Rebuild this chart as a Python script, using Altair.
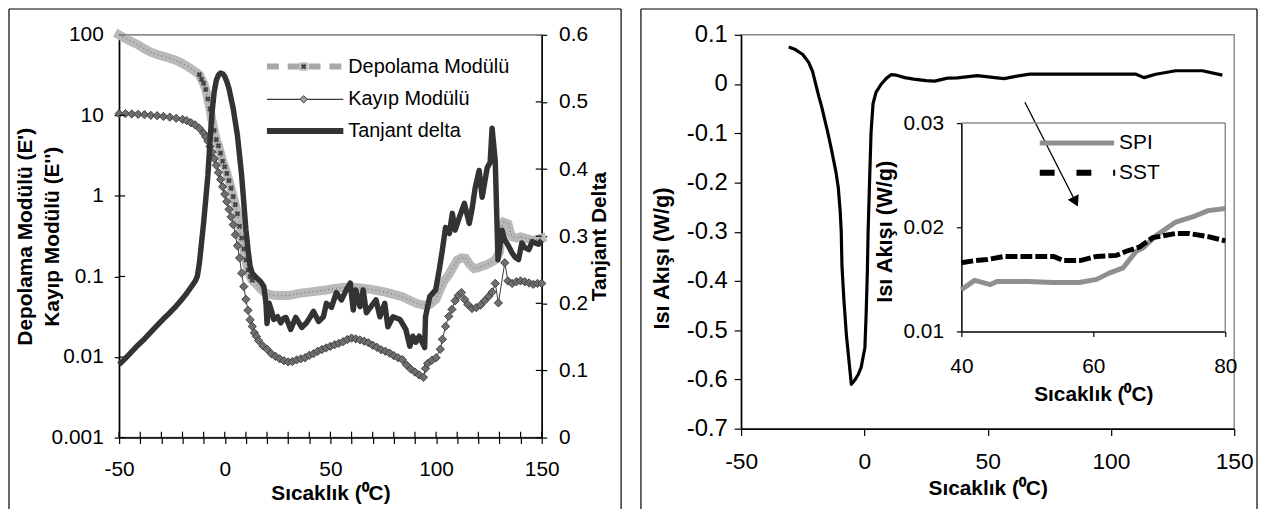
import altair as alt
import pandas as pd

FONT = "Liberation Sans"

# ---------------- left panel data (DMA) ----------------
storage_points = [  # Depolama Modülü (E')
    (-50, 100), (-47, 90), (-44, 82), (-41, 75), (-38, 67), (-35, 61), (-32, 57), (-29, 54),
    (-26, 51), (-23, 48), (-20, 44), (-18, 41), (-16, 38), (-14, 35), (-12, 32), (-11, 28),
    (-10, 25), (-9, 21), (-8, 16), (-7, 12), (-6, 8.5), (-5, 6.5), (-4, 5), (-3, 4.2),
    (-2, 3.4), (-1, 2.7), (0, 2.3), (1, 1.9), (2, 1.55), (3, 1.25), (4, 0.98), (5, 0.78),
    (6, 0.6), (7, 0.42), (8, 0.3), (9, 0.22), (10, 0.16), (11, 0.12), (12, 0.1), (13, 0.09),
    (15, 0.08), (17, 0.07), (19, 0.063), (21, 0.06), (24, 0.058), (27, 0.058), (30, 0.058),
    (33, 0.06), (36, 0.062), (40, 0.064), (44, 0.066), (48, 0.068), (52, 0.071), (56, 0.073),
    (60, 0.074), (64, 0.072), (68, 0.07), (72, 0.067), (76, 0.064), (80, 0.06), (84, 0.056),
    (88, 0.05), (91, 0.046), (94, 0.044), (97, 0.045), (100, 0.052), (102, 0.07), (104, 0.09),
    (106, 0.105), (108, 0.13), (110, 0.16), (112, 0.17), (114, 0.168), (116, 0.14),
    (118, 0.125), (120, 0.128), (122, 0.135), (124, 0.14), (126, 0.15), (128, 0.16),
    (130, 0.2), (131, 0.42), (132, 0.47), (134, 0.45), (135, 0.36), (136, 0.31), (138, 0.3),
    (140, 0.31), (142, 0.3), (144, 0.29), (146, 0.28), (148, 0.29), (150, 0.3),
]
loss_points = [  # Kayıp Modülü (E'')
    (-50, 10.5), (-47, 10.5), (-44, 10.4), (-41, 10.3), (-38, 10.2), (-35, 10.0), (-32, 9.9),
    (-29, 9.7), (-26, 9.5), (-23, 9.2), (-20, 8.9), (-18, 8.6), (-16, 8.1), (-14, 7.6),
    (-12, 6.9), (-10, 6.0), (-9, 5.4), (-8, 4.8), (-7, 4.1), (-6, 3.5), (-5, 2.9), (-4, 2.4),
    (-3, 1.95), (-2, 1.6), (-1, 1.3), (0, 1.05), (1, 0.85), (2, 0.68), (3, 0.55), (4, 0.44),
    (5, 0.33), (6, 0.24), (7, 0.17), (8, 0.11), (9, 0.075), (10, 0.052), (11, 0.038),
    (12, 0.029), (13, 0.024), (14, 0.02), (15, 0.018), (16, 0.016), (18, 0.0138),
    (20, 0.0125), (22, 0.011), (24, 0.0102), (26, 0.0095), (28, 0.009), (30, 0.0087),
    (32, 0.0088), (34, 0.0092), (36, 0.0095), (38, 0.0098), (40, 0.0105), (42, 0.011),
    (44, 0.0118), (46, 0.0124), (48, 0.013), (50, 0.0136), (52, 0.0142), (54, 0.0148),
    (56, 0.0155), (58, 0.0165), (60, 0.0172), (62, 0.0168), (64, 0.0163), (66, 0.0157),
    (68, 0.015), (70, 0.014), (72, 0.0132), (74, 0.0123), (76, 0.0118), (78, 0.0112),
    (80, 0.0104), (82, 0.0098), (84, 0.0093), (86, 0.008), (88, 0.0071), (90, 0.0065),
    (92, 0.006), (94, 0.0056), (95, 0.0072), (96, 0.0083), (98, 0.0091), (100, 0.0098),
    (102, 0.0125), (103, 0.0166), (104.5, 0.024), (106, 0.032), (107.5, 0.039), (109, 0.05),
    (110.5, 0.058), (112, 0.063), (113.5, 0.052), (115, 0.045), (117, 0.04), (119, 0.041),
    (121, 0.044), (123, 0.05), (125, 0.057), (126.5, 0.064), (128, 0.082), (129.5, 0.047),
    (132.5, 0.148), (134, 0.088), (136, 0.082), (138, 0.086), (140, 0.088), (142, 0.086),
    (144, 0.083), (146, 0.08), (148, 0.082), (150, 0.082),
]
tan_points = [  # Tanjant delta
    (-50, 0.109), (-47, 0.118), (-44, 0.128), (-41, 0.138), (-38, 0.147), (-35, 0.157),
    (-32, 0.167), (-29, 0.177), (-26, 0.186), (-23, 0.196), (-20, 0.207), (-18, 0.215),
    (-16, 0.224), (-14, 0.233), (-13, 0.24), (-12, 0.26), (-11, 0.29), (-10, 0.32),
    (-9, 0.355), (-8, 0.39), (-7, 0.44), (-6, 0.485), (-5, 0.515), (-4, 0.532), (-3, 0.54),
    (-2, 0.543), (-1, 0.542), (0, 0.538), (1, 0.53), (2, 0.52), (3, 0.505), (4, 0.49),
    (5, 0.47), (6, 0.45), (7, 0.42), (8, 0.39), (9, 0.35), (10, 0.31), (11, 0.28),
    (12, 0.255), (13, 0.245), (15, 0.238), (17, 0.232), (18.5, 0.225), (19.5, 0.2),
    (20, 0.17), (21, 0.2), (22, 0.19), (23.2, 0.176), (25, 0.18), (26.5, 0.171),
    (28, 0.178), (29, 0.179), (31.2, 0.161), (33.6, 0.179), (36.4, 0.164), (38.7, 0.171),
    (40.5, 0.18), (42, 0.188), (44.4, 0.173), (46.7, 0.18), (48.1, 0.2), (50.5, 0.194),
    (52.8, 0.216), (55.2, 0.205), (57.5, 0.22), (59.4, 0.23), (60.8, 0.19), (62, 0.22),
    (64, 0.195), (65.5, 0.22), (67, 0.186), (69.2, 0.195), (71.6, 0.205), (73.4, 0.18),
    (75.7, 0.2), (77.2, 0.165), (79.6, 0.18), (82.9, 0.176), (85.7, 0.161), (87.6, 0.136),
    (89, 0.151), (90.4, 0.142), (92, 0.151), (94.6, 0.134), (95, 0.18), (97, 0.21),
    (99.8, 0.22), (101.5, 0.25), (103, 0.28), (104.5, 0.313), (106.3, 0.304), (107.7, 0.334),
    (109, 0.309), (111, 0.328), (113.4, 0.349), (115.7, 0.319), (117, 0.34), (118.5, 0.372),
    (120.4, 0.398), (121.8, 0.358), (123, 0.38), (124.2, 0.402), (125.6, 0.41),
    (126.5, 0.461), (128, 0.412), (129.3, 0.265), (131.2, 0.309), (132.5, 0.295),
    (134.5, 0.284), (136, 0.275), (137.3, 0.269), (139, 0.265), (140.6, 0.29), (142, 0.283),
    (143.9, 0.28), (145.5, 0.292), (147, 0.29), (148.5, 0.288), (150, 0.294),
]
left_x_ticks = list(range(-50, 151, 10))
left_y_ticks = [0.001, 0.01, 0.1, 1, 10, 100]
tan_ticks = [0, 0.1, 0.2, 0.3, 0.4, 0.5, 0.6]
left_legend = ["Depolama Modülü", "Kayıp Modülü", "Tanjant delta"]

# ---------------- right panel data (DSC) ----------------
dsc_points = [
    (-30.7, 0.075), (-28, 0.07), (-25, 0.06), (-22.6, 0.044), (-21, 0.025), (-20, 0.005),
    (-18.5, -0.025), (-17.4, -0.045), (-15, -0.095), (-13.4, -0.132), (-11.5, -0.18),
    (-10.6, -0.21), (-9.8, -0.26), (-9.4, -0.30), (-9.1, -0.37), (-8.3, -0.44),
    (-7.3, -0.51), (-6.5, -0.55), (-5.3, -0.61), (-3.7, -0.60), (-2.5, -0.59),
    (-1.3, -0.575), (0.2, -0.535), (0.7, -0.468), (1.2, -0.38), (1.5, -0.30), (2.2, -0.18),
    (2.7, -0.098), (3.5, -0.04), (4.7, -0.017), (6.7, -0.001), (9, 0.012), (10.8, 0.019),
    (13, 0.018), (16.4, 0.013), (20, 0.01), (25, 0.007), (28.5, 0.006), (33.7, 0.012),
    (37.7, 0.0125), (45.8, 0.017), (53.8, 0.0125), (56.6, 0.011), (61.9, 0.016),
    (67.1, 0.02), (80, 0.02), (95, 0.02), (110.2, 0.02), (113.4, 0.013), (118.2, 0.02),
    (126.3, 0.027), (137.1, 0.027), (145.2, 0.018),
]
spi_points = [
    (40, 0.0140), (42, 0.0149), (44.4, 0.0145), (45.4, 0.0148), (50, 0.0148), (54, 0.0147),
    (57.9, 0.0147), (60.5, 0.0150), (62.4, 0.0156), (64.5, 0.0161), (66.5, 0.0177),
    (67.5, 0.0180), (69.5, 0.0192), (72.5, 0.0205), (75.5, 0.0211), (77.4, 0.0216),
    (80, 0.0218),
]
sst_points = [
    (40, 0.0166), (42, 0.0168), (43.9, 0.0169), (46.5, 0.0172), (50, 0.0172), (54, 0.0172),
    (55.5, 0.0168), (58, 0.0168), (60.5, 0.0172), (63.5, 0.0173), (65, 0.0177), (67, 0.0181),
    (69, 0.0190), (72.5, 0.0194), (74.5, 0.0194), (77.4, 0.0191), (80, 0.0187),
]
right_x_ticks = [-50, 0, 50, 100, 150]
right_y_ticks = [-0.7, -0.6, -0.5, -0.4, -0.3, -0.2, -0.1, 0, 0.1]
inset_x_ticks = [40, 60, 80]
inset_y_ticks = [0.01, 0.02, 0.03]
inset_legend = ["SPI", "SST"]
arrow = {"T1": 65.1, "Q1": -0.037, "T2": 85.65, "Q2": -0.239}

HY = "datum.value < 0 ? '-' + format(-datum.value, '~g') : format(datum.value, '~g')"
XT = "Sıcaklık (⁰C)"
TS = 21  # title font size
FT = -26  # frame top, relative to plot top
FB = 478  # frame bottom, relative to plot top


def pts(points, a, b):
    return pd.DataFrame(points, columns=[a, b])


one = alt.Data(values=[{"k": 1}])

# =============== LEFT PANEL ===============
W1, H1 = 426, 406
xL_scale = alt.Scale(domain=[-50, 150], nice=False, zero=False)
xL_axis = alt.Axis(values=left_x_ticks, labelExpr="datum.value % 50 === 0 ? (" + HY + ") : ''",
                   tickSize=6, labelPadding=15, labelFontSize=21, title=XT, titleX=W1 / 2,
                   titleY=56, titleBaseline="middle", titleAlign="center", orient="bottom")
yL_scale = alt.Scale(type="log", domain=[0.001, 100], nice=False)
yL_axis = alt.Axis(values=left_y_ticks, labelExpr="format(datum.value, '~g')", tickSize=5,
                   labelPadding=11, labelFontSize=21, orient="left",
                   title=["Depolama Modülü (E')", "Kayıp Modülü (E'')"], titleX=-94,
                   titleY=H1 / 2, titleAngle=270, titleBaseline="middle", titleAlign="center",
                   titleLineHeight=27)
yT_scale = alt.Scale(domain=[0, 0.6], nice=False, zero=False)
yT_axis = alt.Axis(values=tan_ticks, labelExpr="format(datum.value, '~g')", tickSize=5,
                   labelPadding=12, labelFontSize=21, orient="right", title="Tanjant Delta",
                   titleX=58, titleY=H1 / 2, titleAngle=270, titleBaseline="middle",
                   titleAlign="center")

df_st = pts(storage_points, "T", "E")
df_lo = pts(loss_points, "T", "E")
df_tan = pts(tan_points, "T", "D")

xL = alt.X("T:Q", scale=xL_scale, axis=xL_axis)
yL = alt.Y("E:Q", scale=yL_scale, axis=yL_axis)
yT = alt.Y("D:Q", scale=yT_scale, axis=yT_axis)

band = alt.Chart(df_st).mark_line(color="#b9b9b9", strokeWidth=9, strokeCap="square").encode(x=xL, y=yL)
band_dots = alt.Chart(df_st).mark_line(color="#777777", strokeWidth=1.2, strokeDash=[1, 3]).encode(x=xL, y=yL)
band_x = alt.Chart(df_st).transform_filter("datum.T >= -12 && datum.T <= 14").mark_point(
    shape="cross", angle=45, filled=True, size=32, color="#444444", opacity=1).encode(x=xL, y=yL)
loss_line = alt.Chart(df_lo).mark_line(color="#3a3a3a", strokeWidth=1).encode(x=xL, y=yL)
loss_pts = alt.Chart(df_lo).mark_point(shape="diamond", filled=True, fill="#6e6e6e", stroke="#3a3a3a",
                                       strokeWidth=0.9, size=70, opacity=1).encode(x=xL, y=yL)
x_in = alt.Chart(pd.DataFrame({"T": left_x_ticks})).mark_rule(color="black", strokeWidth=1.2).encode(
    x=xL, y=alt.value(H1 - 6), y2=alt.value(H1))
y_in = alt.Chart(pd.DataFrame({"E": left_y_ticks})).mark_rule(color="black", strokeWidth=1.2).encode(
    y=yL, x=alt.value(0), x2=alt.value(6))
left_log = alt.layer(band, band_dots, band_x, loss_line, loss_pts, x_in, y_in)

tan_line = alt.Chart(df_tan).mark_line(color="#333333", strokeWidth=5.5, strokeJoin="round").encode(x=xL, y=yT)
tan_in = alt.Chart(pd.DataFrame({"D": tan_ticks})).mark_rule(color="black", strokeWidth=1.2).encode(
    y=yT, x=alt.value(W1 - 6), x2=alt.value(W1))
left_tan = alt.layer(tan_line, tan_in)

LX0, LX1, LXM, LXT = 149, 226, 186, 231
LY = [32, 65, 97]
leg_l = [
    alt.Chart(one).mark_rule(color="#8c8c8c", strokeWidth=1.5).encode(
        x=alt.value(0), x2=alt.value(W1), y=alt.value(0)),
    alt.Chart(one).mark_rule(color="#a8a8a8", strokeWidth=6, strokeDash=[12, 9]).encode(
        x=alt.value(LX0), x2=alt.value(LX1), y=alt.value(LY[0])),
    alt.Chart(one).mark_point(shape="square", filled=True, color="#bdbdbd", size=70, opacity=1).encode(
        x=alt.value(LXM), y=alt.value(LY[0])),
    alt.Chart(one).mark_point(shape="cross", angle=45, filled=True, color="#444444", size=30, opacity=1).encode(
        x=alt.value(LXM), y=alt.value(LY[0])),
    alt.Chart(one).mark_rule(color="#3a3a3a", strokeWidth=1.2).encode(
        x=alt.value(LX0), x2=alt.value(LX1), y=alt.value(LY[1])),
    alt.Chart(one).mark_point(shape="diamond", filled=True, fill="#a0a0a0", stroke="#3a3a3a",
                              strokeWidth=1, size=55, opacity=1).encode(x=alt.value(LXM), y=alt.value(LY[1])),
    alt.Chart(one).mark_rule(color="#333333", strokeWidth=6).encode(
        x=alt.value(LX0), x2=alt.value(LX1), y=alt.value(LY[2])),
]
for lab, yy in zip(left_legend, LY):
    leg_l.append(alt.Chart(one).mark_text(align="left", baseline="middle", font=FONT, fontSize=20,
                                          color="black").encode(x=alt.value(LXT), y=alt.value(yy),
                                                                text=alt.value(lab)))

frame_l = [
    alt.Chart(one).mark_rule(color="black", strokeWidth=1.2).encode(x=alt.value(-111), x2=alt.value(506), y=alt.value(FT)),
    alt.Chart(one).mark_rule(color="black", strokeWidth=1.2).encode(x=alt.value(-111), y=alt.value(FT), y2=alt.value(FB)),
    alt.Chart(one).mark_rule(color="black", strokeWidth=1.2).encode(x=alt.value(506), y=alt.value(FT), y2=alt.value(FB)),
]

left = alt.layer(left_log, left_tan, *leg_l, *frame_l).resolve_scale(y="independent").properties(
    width=W1, height=H1)

# =============== RIGHT PANEL ===============
W2, H2 = 497, 397
xR_scale = alt.Scale(domain=[-50, 150], nice=False, zero=False)
xR_axis = alt.Axis(values=right_x_ticks, labelExpr=HY, tickSize=7, labelPadding=15, labelFontSize=23,
                   title=XT, titleX=W2 / 2, titleY=60, titleBaseline="middle", titleAlign="center",
                   orient="bottom")
yR_scale = alt.Scale(domain=[-0.7, 0.1], nice=False, zero=False)
yR_axis = alt.Axis(values=right_y_ticks, labelExpr=HY, tickSize=7, labelPadding=7, labelFontSize=24,
                   orient="left", title="Isı Akışı (W/g)", titleX=-80, titleY=225, titleAngle=270,
                   titleBaseline="middle", titleAlign="center", titleFontSize=22)

df_dsc = pts(dsc_points, "T", "Q")
dsc_line = alt.Chart(df_dsc).mark_line(color="black", strokeWidth=3.2, strokeJoin="round").encode(
    x=alt.X("T:Q", scale=xR_scale, axis=xR_axis), y=alt.Y("Q:Q", scale=yR_scale, axis=yR_axis))
df_arrow = pd.DataFrame([arrow])
arrow_line = alt.Chart(df_arrow).mark_rule(color="black", strokeWidth=1.3).encode(
    x=alt.X("T1:Q", scale=xR_scale, axis=xR_axis), x2="T2:Q",
    y=alt.Y("Q1:Q", scale=yR_scale, axis=yR_axis), y2="Q2:Q")
arrow_head = alt.Chart(df_arrow).mark_point(shape="triangle-up", angle=154, filled=True, color="black",
                                            size=150, opacity=1).encode(
    x=alt.X("T2:Q", scale=xR_scale, axis=xR_axis), y=alt.Y("Q2:Q", scale=yR_scale, axis=yR_axis))
right_main = alt.layer(dsc_line, arrow_line, arrow_head)

xI_scale = alt.Scale(domain=[40, 80], range=[222, 488], nice=False, zero=False)
yI_scale = alt.Scale(domain=[0.01, 0.03], range=[299, 89], nice=False, zero=False)
xI_axis = alt.Axis(orient="bottom", offset=-98, values=inset_x_ticks, tickSize=5, labelPadding=19,
                   labelFontSize=21, title=XT, titleX=355, titleY=64, titleBaseline="middle",
                   titleAlign="center")
yI_axis = alt.Axis(orient="left", offset=-222, values=inset_y_ticks, tickSize=5, labelPadding=13,
                   labelFontSize=21, labelExpr="format(datum.value, '~g')", title="Isı Akışı (W/g)",
                   titleX=-77, titleY=198, titleAngle=270, titleBaseline="middle",
                   titleAlign="center", titleFontSize=22)
df_spi = pts(spi_points, "T", "Q")
df_sst = pts(sst_points, "T", "Q")
xI = alt.X("T:Q", scale=xI_scale, axis=xI_axis)
yI = alt.Y("Q:Q", scale=yI_scale, axis=yI_axis)
spi_line = alt.Chart(df_spi).mark_line(color="#8f8f8f", strokeWidth=5, strokeJoin="round").encode(x=xI, y=yI)
sst_line = alt.Chart(df_sst).mark_line(color="black", strokeWidth=5, strokeDash=[12, 3]).encode(x=xI, y=yI)
df_box = pd.DataFrame({"T": [40, 80], "T2": [80, 80], "Q": [0.03, 0.01], "Q2": [0.03, 0.03]})
inset_box = alt.Chart(df_box).mark_rule(color="#8c8c8c", strokeWidth=1.5).encode(
    x=xI, x2="T2:Q", y=yI, y2="Q2:Q")
right_inset = alt.layer(inset_box, spi_line, sst_line)

RY = [109, 139]
leg_r = [
    alt.Chart(one).mark_rule(color="#8f8f8f", strokeWidth=5).encode(
        x=alt.value(301), x2=alt.value(376), y=alt.value(RY[0])),
    alt.Chart(one).mark_rule(color="black", strokeWidth=6, strokeDash=[15, 22]).encode(
        x=alt.value(301), x2=alt.value(377), y=alt.value(RY[1])),
]
for lab, yy in zip(inset_legend, RY):
    leg_r.append(alt.Chart(one).mark_text(align="left", baseline="middle", font=FONT, fontSize=21,
                                          color="black").encode(x=alt.value(381), y=alt.value(yy),
                                                                text=alt.value(lab)))
frame_r = [
    alt.Chart(one).mark_rule(color="black", strokeWidth=1.2).encode(x=alt.value(-101), x2=alt.value(520), y=alt.value(FT)),
    alt.Chart(one).mark_rule(color="black", strokeWidth=1.2).encode(x=alt.value(-101), y=alt.value(FT), y2=alt.value(FB)),
    alt.Chart(one).mark_rule(color="black", strokeWidth=1.2).encode(x=alt.value(520), y=alt.value(FT), y2=alt.value(FB)),
]

right = alt.layer(right_main, right_inset, *leg_r, *frame_r).resolve_scale(
    x="independent", y="independent").properties(width=W2, height=H2)

chart = alt.hconcat(left, right, spacing=16).properties(
    padding={"left": -1, "top": -3, "right": 0, "bottom": 0}
).configure_view(
    stroke="#8c8c8c", strokeWidth=1.5
).configure_axis(
    labelFont=FONT, labelColor="black", titleFont=FONT, titleFontSize=TS,
    titleFontWeight="bold", titleColor="black", domainColor="black", domainWidth=1.5,
    tickColor="black", tickWidth=1.2, grid=False, labelOverlap=False, labelFlush=False
)

chart.save("out.html", embed_options={"renderer": "svg", "actions": False})
